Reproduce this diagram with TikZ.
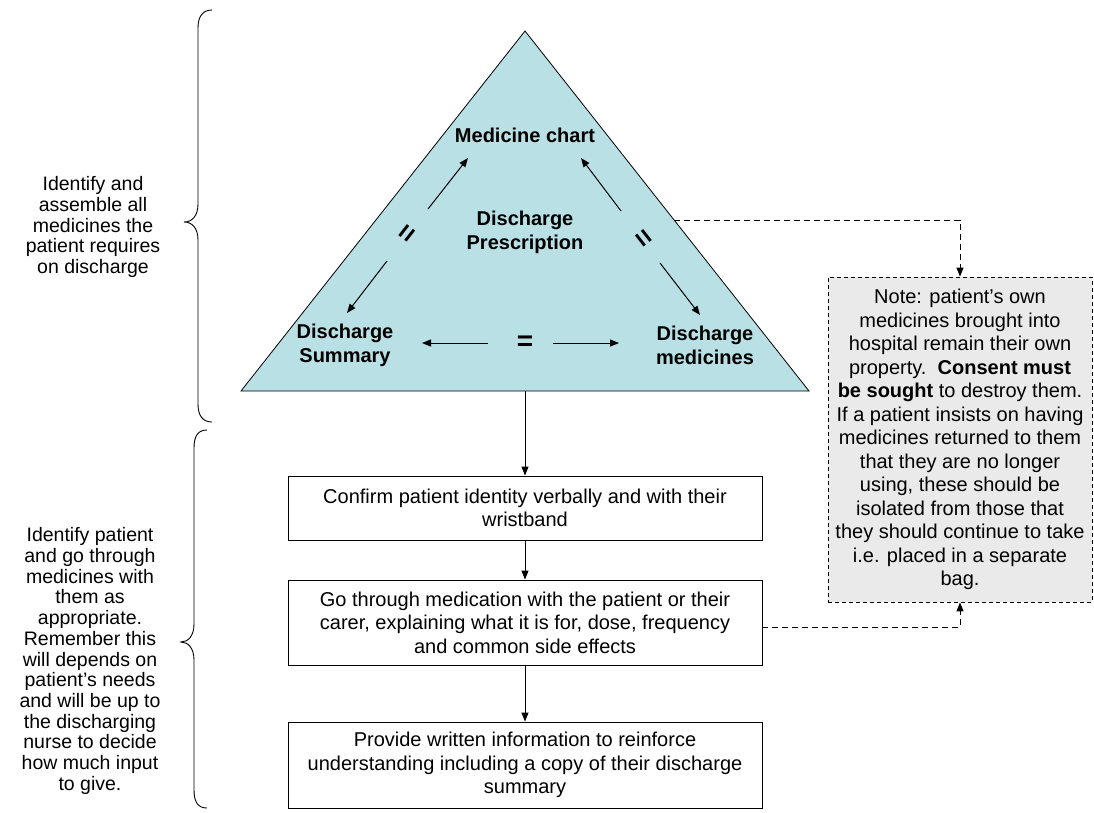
\documentclass[tikz,border=0pt]{standalone}
\usepackage{fontspec}
\setmainfont{Liberation Sans}
\usetikzlibrary{arrows.meta,calc}
\definecolor{triblue}{RGB}{185,224,228}
\definecolor{notegray}{RGB}{234,234,234}
\begin{document}
\begin{tikzpicture}[x=1pt,y=-1pt,
  txt/.style={font=\fontsize{20}{23.5}\selectfont, align=center, inner sep=0pt},
  side/.style={font=\fontsize{19.5}{20.7}\selectfont, align=center, inner sep=0pt},
  lbl/.style={font=\fontsize{20}{24}\selectfont\bfseries, align=center, inner sep=0pt},
  eqsign/.style={font=\fontsize{28}{28}\selectfont\bfseries, inner sep=0pt},
  flowbox/.style={draw, line width=0.9pt, fill=white, minimum width=474pt},
  arr/.style={-{Triangle[length=9pt,width=7pt]}, line width=1pt},
  dashlink/.style={arr, dash pattern=on 6pt off 4pt},
  bracepath/.style={line width=0.9pt}
]
% canvas
\path[fill=white, use as bounding box] (0,0) rectangle (1094,812);

% triangle of discharge documents
\coordinate (apex) at (525,31);
\coordinate (bl) at (241,391);
\coordinate (br) at (809,391);
\filldraw[fill=triblue, draw=black, line width=0.8pt] (apex) -- (br) -- (bl) -- cycle;

\node[lbl] (chart) at (525,135) {Medicine chart};
\node[lbl] (presc) at (525,232) {Discharge\\Prescription};
\node[lbl] (summ)  at (345,345) {Discharge\\Summary};
\node[lbl] (meds)  at (705,345) {Discharge\\medicines};

% equivalence signs with their arrows
\node[eqsign, rotate=52]  (eqL) at (409,235) {=};
\node[eqsign, rotate=-52] (eqR) at (642,239) {=};
\node[eqsign]             (eqB) at (525,343) {=};

\coordinate (lu0) at (428,209); \coordinate (lu1) at (468,158);
\coordinate (ll0) at (387,261); \coordinate (ll1) at (347,313);
\coordinate (ru0) at (621,211); \coordinate (ru1) at (581,158);
\coordinate (rl0) at (660,263); \coordinate (rl1) at (700,315);
\coordinate (bl0) at (488,343); \coordinate (bl1) at (422,343);
\coordinate (br0) at (553,343); \coordinate (br1) at (619,343);
\foreach \a in {lu,ll,ru,rl,bl,br} \draw[arr] (\a0) -- (\a1);

% flow of steps
\coordinate (tribase) at ($(bl)!0.5!(br)$);
\node[flowbox, txt, minimum height=64pt] (box1) at (525,508)
  {Confirm patient identity verbally and with their\\wristband};
\node[flowbox, txt, minimum height=85pt] (box2) at (525,622.5)
  {Go through medication with the patient or their\\carer, explaining what it is for, dose, frequency\\and common side effects};
\node[flowbox, txt, minimum height=86pt] (box3) at (525,765)
  {Provide written information to reinforce\\understanding including a copy of their discharge\\summary};

\draw[arr] (tribase) -- (box1.north);
\draw[arr] (box1.south) -- (box2.north);
\draw[arr] (box2.south) -- (box3.north);

% note on patient's own medicines
\node[draw, fill=notegray, dash pattern=on 4pt off 3pt, line width=0.8pt,
      minimum width=264pt, minimum height=325pt, txt] (note) at (960,439.5)
  {Note: patient's own\\medicines brought into\\hospital remain their own\\property.\hspace{0.56em}\textbf{Consent must}\\\textbf{be sought} to destroy them.\\If a patient insists on having\\medicines returned to them\\that they are no longer\\using, these should be\\isolated from those that\\they should continue to take\\i.e. placed in a separate\\bag.};

\coordinate (edgept) at ($(br)!0.475!(apex)$);
\coordinate (box2out) at ($(box2.east)+(0,4.5)$);
\draw[dashlink] (edgept) -- (edgept -| note.north) -- (note.north);
\draw[dashlink] (box2out) -- (box2out -| note.south) -- (note.south);

% braces and side notes
\draw[bracepath] (212,10) .. controls (203,10) and (198,16) .. (198,28)
  -- (198,204) .. controls (198,216) and (192,222) .. (184,222)
  .. controls (192,222) and (198,228) .. (198,240)
  -- (198,404) .. controls (198,416) and (203,422) .. (212,422);
\draw[bracepath] (207,430) .. controls (198,430) and (194,436) .. (194,448)
  -- (194,624) .. controls (194,636) and (188,642) .. (181,642)
  .. controls (188,642) and (194,648) .. (194,660)
  -- (194,790) .. controls (194,802) and (198,808) .. (207,808);

\node[side] (sideA) at (93,227)
  {Identify and\\assemble all\\medicines the\\patient requires\\on discharge};
\node[side] (sideB) at (90,661)
  {Identify patient\\and go through\\medicines with\\them as\\appropriate.\\Remember this\\will depends on\\patient's needs\\and will be up to\\the discharging\\nurse to decide\\how much input\\to give.};
\end{tikzpicture}
\end{document}
